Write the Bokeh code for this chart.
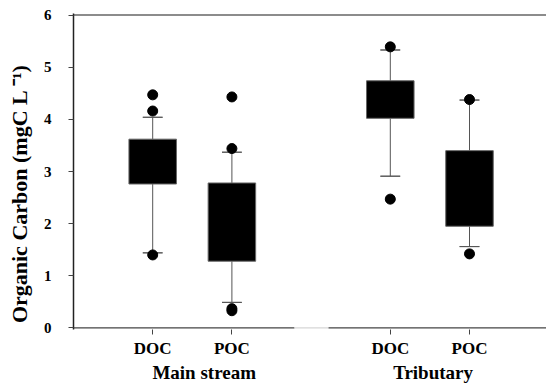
from bokeh.plotting import figure
from bokeh.models import Range1d, FixedTicker, LinearAxis, ColumnDataSource
from bokeh.embed import file_html
from bokeh.resources import INLINE

# ---- data ----
positions = [1, 2, 4, 5]
tick_labels = ["DOC", "POC", "DOC", "POC"]
group_names = ["Main stream", "Tributary"]
group_centers = [1.65, 4.54]

q1 = [2.76, 1.28, 4.02, 1.95]
q3 = [3.62, 2.78, 4.74, 3.40]
whisker_low = [1.44, 0.49, 2.91, 1.56]
whisker_high = [4.04, 3.37, 5.33, 4.37]

outlier_pos = [1, 1, 1, 2, 2, 2, 2, 4, 4, 5, 5]
outlier_val = [4.47, 4.16, 1.40, 4.43, 3.44, 0.37, 0.33, 5.39, 2.47, 4.38, 1.42]

y_ticks = [0, 1, 2, 3, 4, 5, 6]

# ---- styling ----
FONT = "Liberation Serif"
BOX_W = 0.6
CAP_W = 0.25
X_END = 473 / 79.2
BREAK_L, BREAK_R = 2.79, 3.22

p = figure(width=546, height=385, output_backend="svg", toolbar_location=None,
           x_range=Range1d(0, X_END), y_range=Range1d(-0.03, 6.03),
           min_border_left=73, min_border_right=0, min_border_top=13, min_border_bottom=55)
p.outline_line_color = None
p.grid.visible = False
p.background_fill_color = "white"

src = ColumnDataSource(dict(x=positions, q1=q1, q3=q3, lo=whisker_low, hi=whisker_high))

# whiskers
p.segment(x0="x", y0="q3", x1="x", y1="hi", source=src, line_color="#555555", line_width=1)
p.segment(x0="x", y0="lo", x1="x", y1="q1", source=src, line_color="#555555", line_width=1)
# caps
p.rect(x="x", y="hi", width=CAP_W, height=0.0001, source=src, fill_color=None, line_color="#555555", line_width=1)
p.rect(x="x", y="lo", width=CAP_W, height=0.0001, source=src, fill_color=None, line_color="#555555", line_width=1)
# boxes
p.vbar(x="x", bottom="q1", top="q3", width=BOX_W, source=src, fill_color="black", line_color="#666666", line_width=1)
# outliers
p.scatter(outlier_pos, outlier_val, size=10, marker="circle", fill_color="black", line_color="black")

# top border line and broken bottom axis line
p.segment(x0=[0], y0=[6], x1=[X_END], y1=[6], line_color="#8c8c8c", line_width=2)
p.segment(x0=[0, BREAK_L, BREAK_R], y0=[0, 0, 0], x1=[BREAK_L, BREAK_R, X_END], y1=[0, 0, 0],
          line_color=["#444444", "#d6d6d6", "#444444"], line_width=1.2)

# y axis
ya = p.yaxis[0]
ya.ticker = FixedTicker(ticks=y_ticks)
ya.minor_tick_line_color = None
ya.major_tick_in = 0
ya.major_tick_out = 5
ya.major_tick_line_color = "#444444"
ya.axis_line_color = "#222222"
ya.axis_line_width = 1.5
ya.major_label_text_font = FONT
ya.major_label_text_font_style = "bold"
ya.major_label_text_font_size = "15px"
ya.major_label_text_color = "black"
ya.major_label_standoff = 17
ya.axis_label = "Organic Carbon (mgC L \u207b\u00b9)" + "\u00a0" * 8
ya.axis_label_text_font = FONT
ya.axis_label_text_font_style = "bold"
ya.axis_label_text_font_size = "22px"
ya.axis_label_text_color = "black"
ya.axis_label_standoff = 9

# x axis (categories)
xa = p.xaxis[0]
xa.ticker = FixedTicker(ticks=positions)
xa.major_label_overrides = {pos: lab for pos, lab in zip(positions, tick_labels)}
xa.minor_tick_line_color = None
xa.major_tick_in = 0
xa.major_tick_out = 5
xa.major_tick_line_color = "#444444"
xa.axis_line_color = None
xa.major_label_text_font = FONT
xa.major_label_text_font_style = "bold"
xa.major_label_text_font_size = "17px"
xa.major_label_text_color = "black"
xa.major_label_standoff = 4

# group labels axis
ga = LinearAxis(ticker=FixedTicker(ticks=group_centers),
                major_label_overrides={c: n for c, n in zip(group_centers, group_names)})
ga.axis_line_color = None
ga.major_tick_line_color = None
ga.minor_tick_line_color = None
ga.major_tick_in = 0
ga.major_tick_out = 0
ga.major_label_standoff = 1
ga.major_label_text_font = FONT
ga.major_label_text_font_style = "bold"
ga.major_label_text_font_size = "19px"
ga.major_label_text_color = "black"
p.add_layout(ga, "below")

open("out.html", "w").write(file_html(p, INLINE))
